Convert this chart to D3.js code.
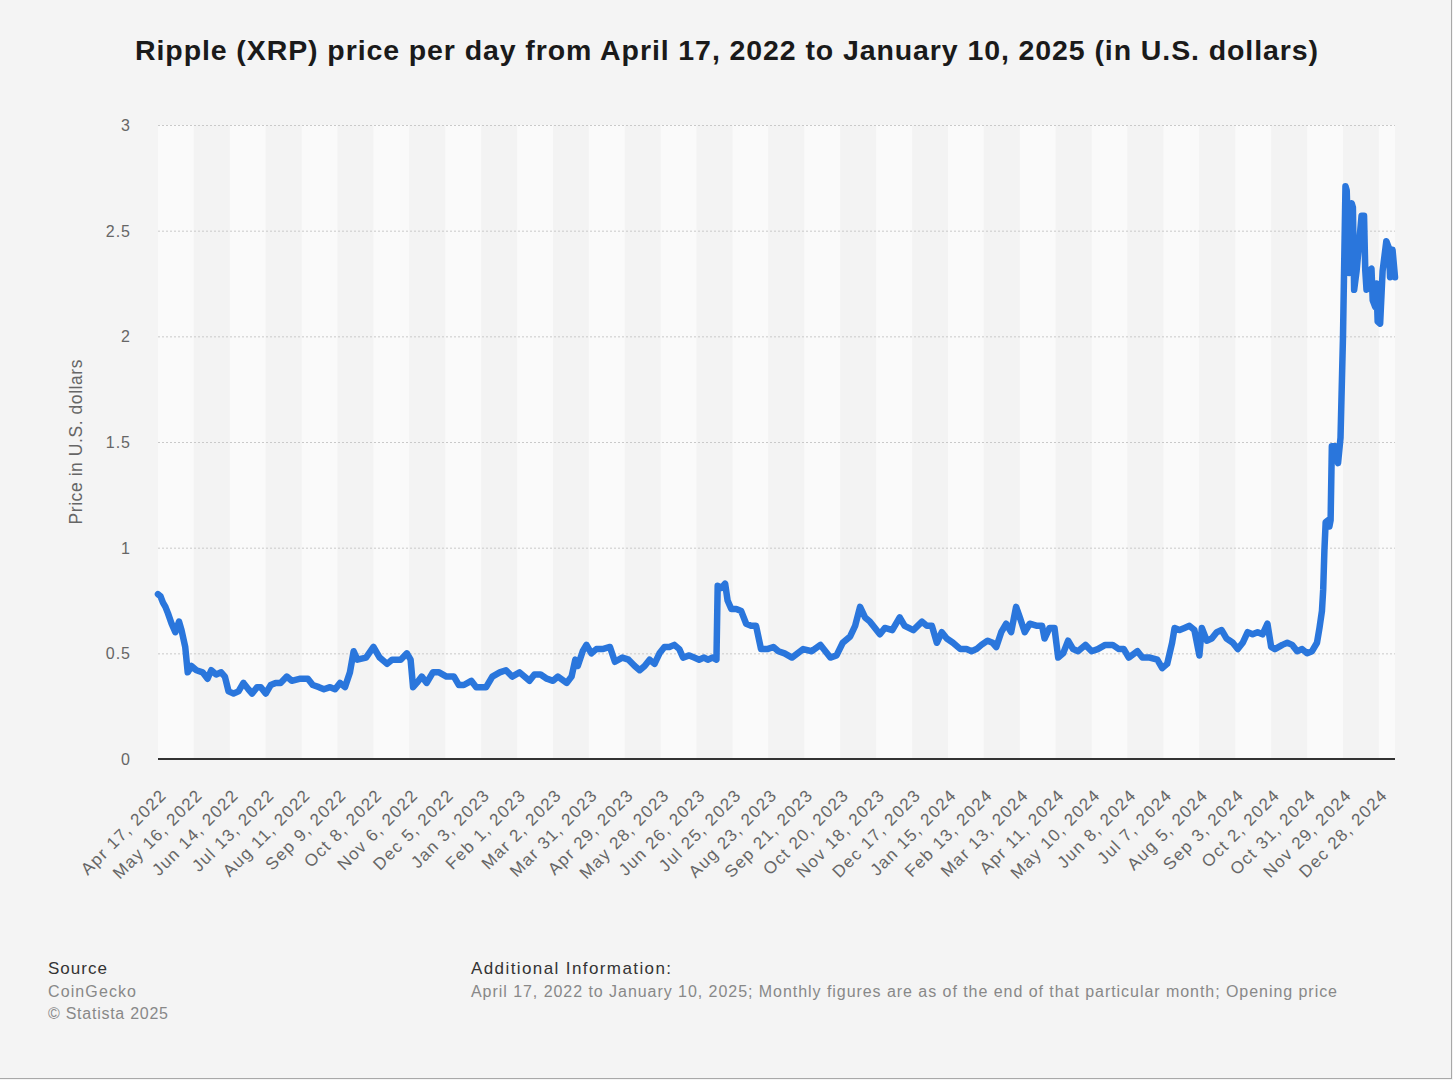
<!DOCTYPE html>
<html><head><meta charset="utf-8">
<script src="https://cdn.jsdelivr.net/npm/d3@7"></script>
<style>
html,body{margin:0;padding:0;background:#f4f4f4;}
svg{display:block;font-family:"Liberation Sans",Arial,Helvetica,sans-serif;}
</style></head><body>
<svg id="chart" width="1453" height="1080"></svg>
<script>
// ---------------- DATA ----------------
const dates = [
"2022-04-17","2022-04-19","2022-04-21","2022-04-23","2022-04-25","2022-04-28","2022-05-01","2022-05-04","2022-05-06","2022-05-09",
"2022-05-11","2022-05-14","2022-05-18","2022-05-23","2022-05-27","2022-05-30","2022-06-03","2022-06-07","2022-06-10","2022-06-13",
"2022-06-17","2022-06-21","2022-06-25","2022-06-29","2022-07-02","2022-07-06","2022-07-09","2022-07-13","2022-07-17","2022-07-21",
"2022-07-25","2022-07-30","2022-08-03","2022-08-10","2022-08-16","2022-08-20","2022-08-25","2022-08-29","2022-09-03","2022-09-07",
"2022-09-11","2022-09-15","2022-09-19","2022-09-22","2022-09-25","2022-10-02","2022-10-08","2022-10-13","2022-10-19","2022-10-23",
"2022-10-30","2022-11-04","2022-11-07","2022-11-09","2022-11-12","2022-11-16","2022-11-20","2022-11-25","2022-11-30","2022-12-06",
"2022-12-12","2022-12-16","2022-12-20","2022-12-26","2022-12-30","2023-01-07","2023-01-12","2023-01-18","2023-01-23","2023-01-28",
"2023-02-03","2023-02-11","2023-02-15","2023-02-20","2023-02-25","2023-03-02","2023-03-06","2023-03-13","2023-03-17","2023-03-20",
"2023-03-22","2023-03-26","2023-03-29","2023-04-02","2023-04-06","2023-04-11","2023-04-17","2023-04-21","2023-04-27","2023-05-02",
"2023-05-07","2023-05-11","2023-05-15","2023-05-19","2023-05-23","2023-05-27","2023-05-31","2023-06-04","2023-06-08","2023-06-12",
"2023-06-15","2023-06-20","2023-06-24","2023-06-28","2023-07-02","2023-07-05","2023-07-09","2023-07-12","2023-07-13","2023-07-16",
"2023-07-19","2023-07-21","2023-07-24","2023-07-28","2023-08-01","2023-08-05","2023-08-09","2023-08-13","2023-08-17","2023-08-22",
"2023-08-27","2023-08-31","2023-09-05","2023-09-11","2023-09-20","2023-09-27","2023-10-04","2023-10-12","2023-10-17","2023-10-22",
"2023-10-28","2023-11-01","2023-11-05","2023-11-09","2023-11-13","2023-11-17","2023-11-21","2023-11-25","2023-12-01","2023-12-07",
"2023-12-11","2023-12-18","2023-12-25","2023-12-29","2024-01-02","2024-01-06","2024-01-10","2024-01-14","2024-01-19","2024-01-25",
"2024-01-30","2024-02-03","2024-02-07","2024-02-11","2024-02-16","2024-02-20","2024-02-23","2024-02-27","2024-03-02","2024-03-06",
"2024-03-10","2024-03-13","2024-03-17","2024-03-21","2024-03-27","2024-03-31","2024-04-02","2024-04-06","2024-04-10","2024-04-13",
"2024-04-17","2024-04-21","2024-04-25","2024-04-29","2024-05-05","2024-05-10","2024-05-15","2024-05-21","2024-05-27","2024-06-01",
"2024-06-05","2024-06-09","2024-06-16","2024-06-20","2024-06-26","2024-07-02","2024-07-06","2024-07-10","2024-07-14","2024-07-16",
"2024-07-20","2024-07-24","2024-07-28","2024-08-01","2024-08-05","2024-08-07","2024-08-11","2024-08-15","2024-08-19","2024-08-23",
"2024-08-27","2024-09-01","2024-09-05","2024-09-09","2024-09-13","2024-09-17","2024-09-21","2024-09-25","2024-09-29","2024-10-02",
"2024-10-05","2024-10-11","2024-10-15","2024-10-19","2024-10-23","2024-10-27","2024-10-31","2024-11-04","2024-11-08","2024-11-10",
"2024-11-12","2024-11-13","2024-11-14","2024-11-15","2024-11-17","2024-11-18","2024-11-19","2024-11-20","2024-11-23","2024-11-25",
"2024-11-27","2024-11-29","2024-12-01","2024-12-02","2024-12-04","2024-12-06","2024-12-07","2024-12-08","2024-12-10","2024-12-12",
"2024-12-14","2024-12-16","2024-12-17","2024-12-18","2024-12-20","2024-12-22","2024-12-23","2024-12-25","2024-12-26","2024-12-27",
"2024-12-29","2024-12-31","2025-01-03","2025-01-05","2025-01-06","2025-01-08","2025-01-10"
];
const prices = [
0.78,0.77,0.74,0.72,0.69,0.64,0.60,0.65,0.61,0.53,
0.41,0.44,0.42,0.41,0.38,0.42,0.40,0.41,0.39,0.32,
0.31,0.32,0.36,0.33,0.31,0.34,0.34,0.31,0.35,0.36,
0.36,0.39,0.37,0.38,0.38,0.35,0.34,0.33,0.34,0.33,
0.36,0.34,0.41,0.51,0.47,0.48,0.53,0.48,0.45,0.47,
0.47,0.50,0.47,0.34,0.36,0.39,0.36,0.41,0.41,0.39,
0.39,0.35,0.35,0.37,0.34,0.34,0.39,0.41,0.42,0.39,
0.41,0.37,0.40,0.40,0.38,0.37,0.39,0.36,0.39,0.47,
0.44,0.51,0.54,0.50,0.52,0.52,0.53,0.46,0.48,0.47,
0.44,0.42,0.44,0.47,0.45,0.50,0.53,0.53,0.54,0.52,
0.48,0.49,0.48,0.47,0.48,0.47,0.48,0.47,0.82,0.81,
0.83,0.75,0.71,0.71,0.70,0.64,0.63,0.63,0.52,0.52,
0.53,0.51,0.50,0.48,0.52,0.51,0.54,0.48,0.49,0.55,
0.58,0.63,0.72,0.67,0.65,0.62,0.59,0.62,0.61,0.67,
0.63,0.61,0.65,0.63,0.63,0.55,0.60,0.57,0.55,0.52,
0.52,0.51,0.52,0.54,0.56,0.55,0.53,0.60,0.64,0.60,
0.72,0.67,0.60,0.64,0.63,0.63,0.57,0.62,0.62,0.48,
0.50,0.56,0.52,0.51,0.54,0.51,0.52,0.54,0.54,0.52,
0.52,0.48,0.51,0.48,0.48,0.47,0.43,0.45,0.55,0.62,
0.61,0.62,0.63,0.61,0.49,0.62,0.56,0.57,0.60,0.61,
0.57,0.55,0.52,0.55,0.60,0.59,0.60,0.59,0.64,0.53,
0.52,0.54,0.55,0.54,0.51,0.52,0.50,0.51,0.55,0.62,
0.70,0.80,0.99,1.12,1.13,1.10,1.13,1.48,1.48,1.40,
1.52,2.00,2.71,2.69,2.30,2.63,2.61,2.22,2.31,2.44,
2.57,2.57,2.31,2.22,2.31,2.32,2.17,2.14,2.25,2.07,
2.06,2.31,2.45,2.42,2.28,2.41,2.28
];
const tickDates = ["2022-04-17","2022-05-16","2022-06-14","2022-07-13","2022-08-11","2022-09-09","2022-10-08","2022-11-06","2022-12-05",
"2023-01-03","2023-02-01","2023-03-02","2023-03-31","2023-04-29","2023-05-28","2023-06-26","2023-07-25","2023-08-23","2023-09-21",
"2023-10-20","2023-11-18","2023-12-17","2024-01-15","2024-02-13","2024-03-13","2024-04-11","2024-05-10","2024-06-08","2024-07-07",
"2024-08-05","2024-09-03","2024-10-02","2024-10-31","2024-11-29","2024-12-28"];
const tickLabels = ["Apr 17, 2022","May 16, 2022","Jun 14, 2022","Jul 13, 2022","Aug 11, 2022","Sep 9, 2022","Oct 8, 2022","Nov 6, 2022","Dec 5, 2022",
"Jan 3, 2023","Feb 1, 2023","Mar 2, 2023","Mar 31, 2023","Apr 29, 2023","May 28, 2023","Jun 26, 2023","Jul 25, 2023","Aug 23, 2023","Sep 21, 2023",
"Oct 20, 2023","Nov 18, 2023","Dec 17, 2023","Jan 15, 2024","Feb 13, 2024","Mar 13, 2024","Apr 11, 2024","May 10, 2024","Jun 8, 2024","Jul 7, 2024",
"Aug 5, 2024","Sep 3, 2024","Oct 2, 2024","Oct 31, 2024","Nov 29, 2024","Dec 28, 2024"];
const domainDates = ["2022-04-17","2025-01-10"];
const yTicks = [0,0.5,1,1.5,2,2.5,3];
const yTickLabels = ["0","0.5","1","1.5","2","2.5","3"];
const titleText = "Ripple (XRP) price per day from April 17, 2022 to January 10, 2025 (in U.S. dollars)";
const yAxisTitle = "Price in U.S. dollars";
const sourceLines = ["CoinGecko","© Statista 2025"];
const infoLine = "April 17, 2022 to January 10, 2025; Monthly figures are as of the end of that particular month; Opening price";

// ---------------- DRAW ----------------
(function(){
const parse = d3.utcParse("%Y-%m-%d");
const svg = d3.select("#chart");
const pL = 158, pR = 1395, pT = 125, pB = 759;

svg.append("rect").attr("width",1453).attr("height",1080).attr("fill","#f4f4f4");

const x = d3.scaleUtc().domain(domainDates.map(parse)).range([pL, pR]);
const y = d3.scaleLinear().domain([0,3]).range([pB, pT]);

// alternating bands
const bandEdges = tickDates.map(parse).concat([parse(domainDates[1])]);
const bands = d3.pairs(bandEdges);
svg.append("g").selectAll("rect").data(bands).join("rect")
  .attr("x", d => x(d[0])).attr("width", d => x(d[1]) - x(d[0]))
  .attr("y", y(3)).attr("height", y(0) - y(3))
  .attr("fill", (d,i) => i % 2 === 0 ? "#fafafa" : "#f3f3f3");

// gridlines + y labels
const yAxis = d3.axisLeft(y).tickValues(yTicks).tickFormat((d,i) => yTickLabels[i]).tickSize(0).tickPadding(0);
const gy = svg.append("g").attr("transform", `translate(${pL},0)`).call(yAxis);
gy.select(".domain").remove();
gy.selectAll(".tick line").remove();
gy.selectAll(".tick").filter(d => d !== 0).append("line")
  .attr("x1", 0).attr("x2", pR - pL)
  .attr("stroke", "#c9c9c9").attr("stroke-width", 1).attr("stroke-dasharray", "2,2");
gy.selectAll(".tick text")
  .attr("x", -27).attr("dy", "0.35em")
  .attr("fill", "#666").attr("font-size", 16).attr("letter-spacing", "1px")
  .attr("font-family", "Liberation Sans, Arial, sans-serif").attr("text-anchor","end");

// x axis
const xAxis = d3.axisBottom(x).tickValues(tickDates.map(parse)).tickFormat((d,i) => tickLabels[i]).tickSize(0);
const gx = svg.append("g").attr("transform", `translate(0,${pB})`).call(xAxis);
gx.select(".domain").remove();
gx.selectAll(".tick text")
  .attr("y", 0).attr("dy", "0.35em")
  .attr("transform", "translate(5,33) rotate(-45)")
  .attr("text-anchor", "end")
  .attr("fill", "#666").attr("font-size", 17).attr("letter-spacing", "1.3px")
  .attr("font-family", "Liberation Sans, Arial, sans-serif");

// baseline
svg.append("line").attr("x1", pL).attr("x2", pR).attr("y1", y(0)).attr("y2", y(0))
  .attr("stroke", "#333").attr("stroke-width", 2);

// price line
const series = dates.map((d,i) => ({date: parse(d), value: prices[i]}));
const line = d3.line().x(d => x(d.date)).y(d => y(d.value));
svg.append("path").datum(series).attr("d", line)
  .attr("fill","none").attr("stroke","#2a76dc").attr("stroke-width", 6.5)
  .attr("stroke-linejoin","round").attr("stroke-linecap","round");

// title
svg.append("text").attr("x", 726.5).attr("y", 60).attr("text-anchor","middle")
  .attr("font-size", 28.5).attr("font-weight","bold").attr("fill","#1a1a1a")
  .attr("textLength", 1183).attr("lengthAdjust","spacing")
  .text(titleText);

// y axis title
svg.append("text").attr("transform","translate(76,442) rotate(-90)").attr("text-anchor","middle")
  .attr("dy","0.35em").attr("font-size", 17.5).attr("fill","#666")
  .attr("textLength", 165).attr("lengthAdjust","spacing")
  .text(yAxisTitle);

// footer
svg.append("text").attr("x",48).attr("y",974).attr("font-size",17).attr("fill","#333")
  .attr("textLength",59).attr("lengthAdjust","spacing").text("Source");
svg.append("text").attr("x",48).attr("y",997).attr("font-size",16).attr("fill","#888")
  .attr("textLength",88).attr("lengthAdjust","spacing").text(sourceLines[0]);
svg.append("text").attr("x",48).attr("y",1019).attr("font-size",16).attr("fill","#888")
  .attr("textLength",120).attr("lengthAdjust","spacing").text(sourceLines[1]);
svg.append("text").attr("x",471).attr("y",974).attr("font-size",17).attr("fill","#333")
  .attr("textLength",200).attr("lengthAdjust","spacing").text("Additional Information:");
svg.append("text").attr("x",471).attr("y",997).attr("font-size",16).attr("fill","#888")
  .attr("textLength",866).attr("lengthAdjust","spacing").text(infoLine);

// frame edges
svg.append("line").attr("x1",1451.5).attr("x2",1451.5).attr("y1",0).attr("y2",1079).attr("stroke","#a8a8a8");
svg.append("line").attr("x1",0).attr("x2",1452).attr("y1",1078.5).attr("y2",1078.5).attr("stroke","#a8a8a8");
})();
</script>
</body></html>
